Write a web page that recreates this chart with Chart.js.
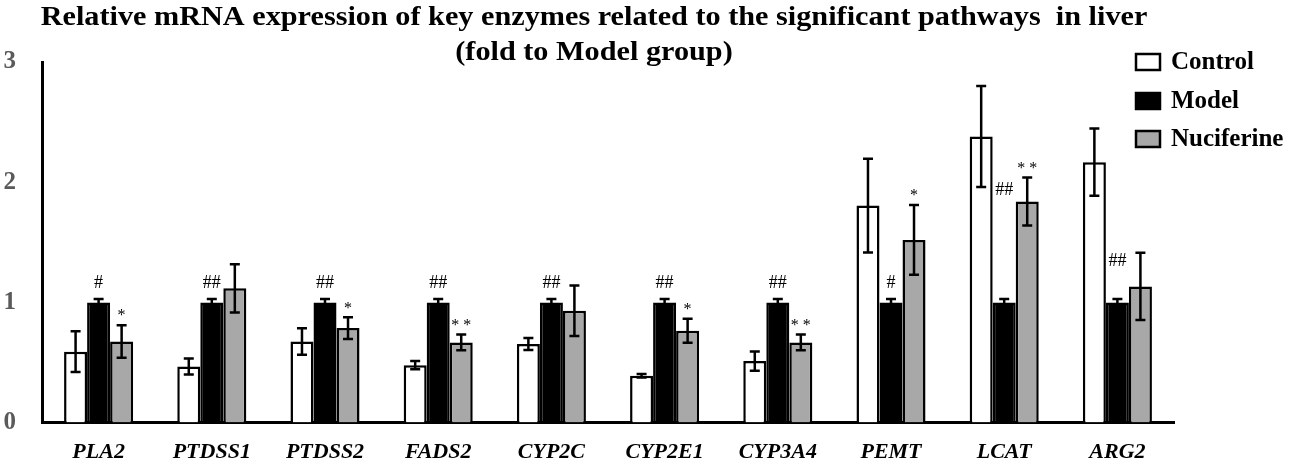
<!DOCTYPE html>
<html>
<head>
<meta charset="utf-8">
<script src="https://cdn.jsdelivr.net/npm/chart.js@4.4.0/dist/chart.umd.min.js"></script>
<style>
    html, body { margin: 0; padding: 0; background: #fff; }
    #wrap { width: 1299px; height: 465px; position: relative; }
</style>
</head>
<body>
<div id="wrap"><canvas id="enzymeChart"></canvas></div>
<script>
// Categories (gene names)
const genes = ['PLA2', 'PTDSS1', 'PTDSS2', 'FADS2', 'CYP2C', 'CYP2E1', 'CYP3A4', 'PEMT', 'LCAT', 'ARG2'];

// Group means and error (SD)
const controlValues = [0.59, 0.467, 0.675, 0.478, 0.653, 0.39, 0.512, 1.806, 2.38, 2.167];
const controlErrors = [0.17, 0.067, 0.11, 0.035, 0.05, 0.015, 0.08, 0.39, 0.42, 0.28];
const modelValues = [1, 1, 1, 1, 1, 1, 1, 1, 1, 1];
const modelErrors = [0.028, 0.028, 0.028, 0.028, 0.028, 0.028, 0.028, 0.028, 0.028, 0.028];
const nuciferineValues = [0.675, 1.117, 0.786, 0.667, 0.93, 0.764, 0.667, 1.52, 1.84, 1.133];
const nuciferineErrors = [0.135, 0.2, 0.09, 0.065, 0.21, 0.1, 0.065, 0.29, 0.2, 0.28];

// Significance marks
const modelMarks = ['#', '##', '##', '##', '##', '##', '##', '#', '##', '##'];
const modelMarkLevels = [1.16, 1.16, 1.16, 1.16, 1.16, 1.16, 1.16, 1.16, 1.93, 1.345];
const nuciferineMarks = ['*', '', '*', '**', '', '*', '**', '*', '**', ''];

// Y axis ticks
const yTicks = [0, 1, 2, 3];

const titleLines = [
    'Relative mRNA expression of key enzymes related to the significant pathways  in liver',
    '(fold to Model group)'
];

const errorSets = [controlErrors, modelErrors, nuciferineErrors];

// Error bars drawn on top of the bars
const errorBarPlugin = {
    id: 'errorBars',
    afterDatasetsDraw(chart) {
        const ctx = chart.ctx;
        const yScale = chart.scales.y;
        ctx.save();
        ctx.strokeStyle = '#000';
        ctx.lineWidth = 2.5;
        chart.data.datasets.forEach((ds, i) => {
            const meta = chart.getDatasetMeta(i);
            meta.data.forEach((bar, j) => {
                const v = ds.data[j];
                const e = errorSets[i][j];
                const yTop = yScale.getPixelForValue(v + e);
                const yBot = yScale.getPixelForValue(v - e);
                const cap = 5;
                ctx.beginPath();
                ctx.moveTo(bar.x, yTop);
                ctx.lineTo(bar.x, yBot);
                ctx.moveTo(bar.x - cap, yTop);
                ctx.lineTo(bar.x + cap, yTop);
                ctx.moveTo(bar.x - cap, yBot);
                ctx.lineTo(bar.x + cap, yBot);
                ctx.stroke();
            });
        });
        ctx.restore();
    }
};

// # and * significance labels
const marksPlugin = {
    id: 'sigMarks',
    afterDatasetsDraw(chart) {
        const ctx = chart.ctx;
        const yScale = chart.scales.y;
        const modelMeta = chart.getDatasetMeta(1);
        const nucMeta = chart.getDatasetMeta(2);
        ctx.save();
        ctx.fillStyle = '#000';
        ctx.textAlign = 'center';
        ctx.textBaseline = 'middle';
        ctx.font = '18px "Liberation Serif"';
        modelMarks.forEach((m, j) => {
            if (!m) return;
            ctx.fillText(m, modelMeta.data[j].x, yScale.getPixelForValue(modelMarkLevels[j]));
        });
        ctx.font = '16px "Liberation Serif"';
        nuciferineMarks.forEach((m, j) => {
            if (!m) return;
            const y = yScale.getPixelForValue(nuciferineValues[j] + nuciferineErrors[j]) - 9;
            ctx.fillText(m.split('').join(' '), nucMeta.data[j].x, y);
        });
        ctx.restore();
    }
};

// Title and legend drawn over the top of the plot
const headerPlugin = {
    id: 'header',
    afterDraw(chart) {
        const ctx = chart.ctx;
        ctx.save();
        ctx.fillStyle = '#000';
        ctx.textAlign = 'center';
        ctx.textBaseline = 'middle';
        ctx.font = 'bold 27px "Liberation Serif"';
        // the source title is a little stretched sideways
        ctx.save();
        ctx.translate(594, 0);
        ctx.scale(1.12, 1);
        ctx.fillText(titleLines[0], 0, 18);
        ctx.fillText(titleLines[1], 0, 53);
        ctx.restore();

        ctx.textAlign = 'left';
        ctx.font = 'bold 25px "Liberation Serif"';
        const rows = [62, 101, 139];
        chart.data.datasets.forEach((ds, i) => {
            ctx.fillStyle = ds.backgroundColor;
            ctx.fillRect(1136, rows[i] - 8, 24, 16);
            ctx.strokeStyle = '#000';
            ctx.lineWidth = 2.5;
            ctx.strokeRect(1136, rows[i] - 8, 24, 16);
            ctx.fillStyle = '#000';
            ctx.fillText(ds.label, 1171, rows[i] + 1);
        });
        ctx.restore();
    }
};

new Chart(document.getElementById('enzymeChart'), {
    type: 'bar',
    data: {
        labels: genes,
        datasets: [
            { label: 'Control', data: controlValues, backgroundColor: '#ffffff' },
            { label: 'Model', data: modelValues, backgroundColor: '#000000' },
            { label: 'Nuciferine', data: nuciferineValues, backgroundColor: '#a8a8a8' }
        ]
    },
    options: {
        responsive: true,
        maintainAspectRatio: false,
        animation: false,
        devicePixelRatio: 1,
        datasets: {
            bar: {
                borderColor: '#000',
                borderWidth: 2.5,
                categoryPercentage: 0.61,
                barPercentage: 1.0
            }
        },
        layout: {
            padding: { left: 2, right: 125, top: 62, bottom: -18 }
        },
        plugins: {
            legend: { display: false },
            title: { display: false },
            tooltip: { enabled: false }
        },
        scales: {
            x: {
                grid: { display: false, drawTicks: false },
                border: { display: true, color: '#000', width: 3 },
                afterFit(scale) {
                    // labels sit well inside the offset columns, no edge padding needed
                    scale.paddingLeft = 0;
                    scale.paddingRight = 0;
                },
                ticks: {
                    color: '#000',
                    padding: 17,
                    font: { family: 'Liberation Serif', size: 22, style: 'italic', weight: 'bold' }
                }
            },
            y: {
                min: 0,
                max: 3,
                grid: { display: false, drawTicks: false },
                border: { display: true, color: '#000', width: 3 },
                afterBuildTicks(scale) {
                    scale.ticks = yTicks.map(v => ({ value: v }));
                },
                afterFit(scale) {
                    scale.width = 40;
                },
                ticks: {
                    color: '#5a5a5a',
                    padding: 26,
                    font: { family: 'Liberation Serif', size: 25, weight: 'bold' }
                }
            }
        }
    },
    plugins: [errorBarPlugin, marksPlugin, headerPlugin]
});
</script>
</body>
</html>
